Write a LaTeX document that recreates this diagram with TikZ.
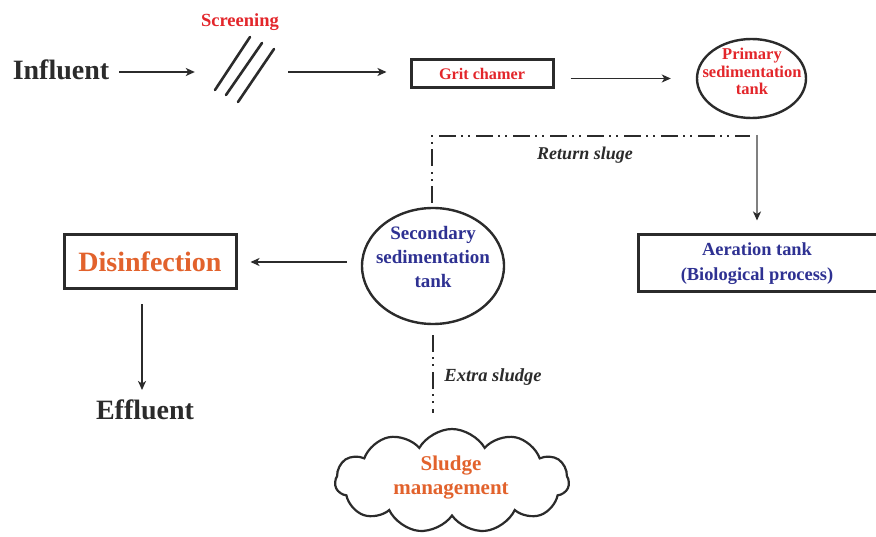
\documentclass[tikz,border=0pt]{standalone}
\usepackage{fontspec}
\setmainfont{Liberation Serif}
\usetikzlibrary{arrows.meta,shapes.geometric,shapes.symbols}

\definecolor{flowred}{HTML}{E3262B}
\definecolor{floworange}{HTML}{E2622C}
\definecolor{flowblue}{HTML}{2E3192}
\definecolor{ink}{HTML}{2B2B2B}

\tikzset{
  arr/.style={draw=ink, line width=1.6pt, -{Stealth[length=9pt,width=8pt,inset=2.5pt]}},
  grayarr/.style={draw=ink!60, line width=1.8pt, -{Stealth[length=9pt,width=8pt,inset=2.5pt,color=ink]}},
  sludgeline/.style={draw=ink, line width=2.2pt,
    dash pattern=on 17pt off 5pt on 2pt off 5pt on 2pt off 6pt},
  procbox/.style={draw=ink, line width=3pt, rectangle, inner sep=0pt},
  tankshape/.style={draw=ink, line width=2.4pt, ellipse, inner sep=0pt},
  lbl/.style={inner sep=0pt, align=center},
  bigtxt/.style={lbl, text=ink, font=\bfseries\fontsize{28}{30}\selectfont},
  itl/.style={lbl, text=ink, font=\bfseries\itshape\fontsize{18}{20}\selectfont},
}

\begin{document}
\begin{tikzpicture}[x=1pt,y=-1pt]
\useasboundingbox (0,0) rectangle (876,537);
\clip (0,0) rectangle (876,537);
\fill[white] (0,0) rectangle (876,537);

% --- top row ---------------------------------------------------------
\node[bigtxt] (influent) at (61,70) {Influent};

\node[lbl, text=flowred, font=\bfseries\fontsize{18.5}{20}\selectfont]
  (screenlbl) at (240,22) {Screening};
\draw[ink, line width=2.6pt, line cap=round]
  (250,37) -- (215,90)
  (262,43) -- (226,95)
  (274,49) -- (238,102);
\node[inner sep=0pt, minimum width=93pt, minimum height=10pt] (screen) at (241.5,72) {};

\node[procbox, minimum width=142pt, minimum height=28pt,
  text=flowred, font=\bfseries\fontsize{16.2}{18}\selectfont]
  (grit) at (482,74) {Grit chamer};

\node[tankshape, minimum width=109pt, minimum height=79pt] (primary) at (751.5,78.5) {};
\node[lbl, text=flowred, font=\bfseries\fontsize{16.5}{17.5}\selectfont]
  (primarytxt) at (752,71.5) {Primary\\sedimentation\\tank};

\draw[arr, shorten <=10pt] (influent.east |- screen.west) -- (screen.west);
\draw[arr, shorten >=23pt] (screen.east) -- (screen.east -| grit.west);
\draw[arr, shorten <=16pt, shorten >=25pt] (grit.east |- primary.west) -- (primary.west);

% --- aeration --------------------------------------------------------
\node[procbox, minimum width=262pt, minimum height=57pt] (aeration) at (769,263.5) {};
\node[lbl, text=flowblue, font=\bfseries\fontsize{18.4}{25}\selectfont]
  (aerationtxt) at (757,263.5) {Aeration tank\\(Biological process)};

\coordinate (pdrop) at (757,135);
\draw[grayarr, shorten >=13pt] (pdrop) -- (pdrop |- aeration.north);

% --- secondary sedimentation ------------------------------------------
\node[tankshape, minimum width=142pt, minimum height=116pt] (secondary) at (433,266) {};
\node[lbl, text=flowblue, font=\bfseries\fontsize{19}{24}\selectfont]
  (secondarytxt) at (433,257.5) {Secondary\\sedimentation\\tank};

% return sludge loop
\coordinate (retL) at (432,136);
\coordinate (retR) at (750,136);
\draw[sludgeline] ([yshift=4pt]retL |- secondary.north) -- (retL) -- (retR);
\node[itl] (returnlbl) at (585,155) {Return sluge};

% --- disinfection and effluent ----------------------------------------
\node[procbox, minimum width=172pt, minimum height=54pt,
  text=floworange, font=\bfseries\fontsize{28}{30}\selectfont]
  (disinf) at (150,262) {Disinfection};
\draw[arr, shorten <=14pt, shorten >=13pt] (secondary.west |- disinf.east) -- (disinf.east);

\node[bigtxt] (effluent) at (145,410) {Effluent};
\coordinate (effin) at (142,390);
\draw[arr, shorten <=14pt] (disinf.south -| effin) -- (effin);

% --- sludge management ------------------------------------------------
\node[cloud, draw=ink, line width=2.2pt, cloud puffs=11, cloud puff arc=120,
  aspect=2.2, minimum width=234pt, minimum height=104pt, inner sep=0pt]
  (cloud) at (452,481) {};
\node[lbl, text=floworange, font=\bfseries\fontsize{21}{24}\selectfont]
  (cloudtxt) at (451,478) {Sludge\\management};

\draw[sludgeline, shorten <=10pt, shorten >=15pt] (secondary.south) -- (secondary.south |- cloud.north);
\node[itl, font=\bfseries\itshape\fontsize{18.5}{20}\selectfont] (extralbl) at (493,377) {Extra sludge};
\end{tikzpicture}
\end{document}
